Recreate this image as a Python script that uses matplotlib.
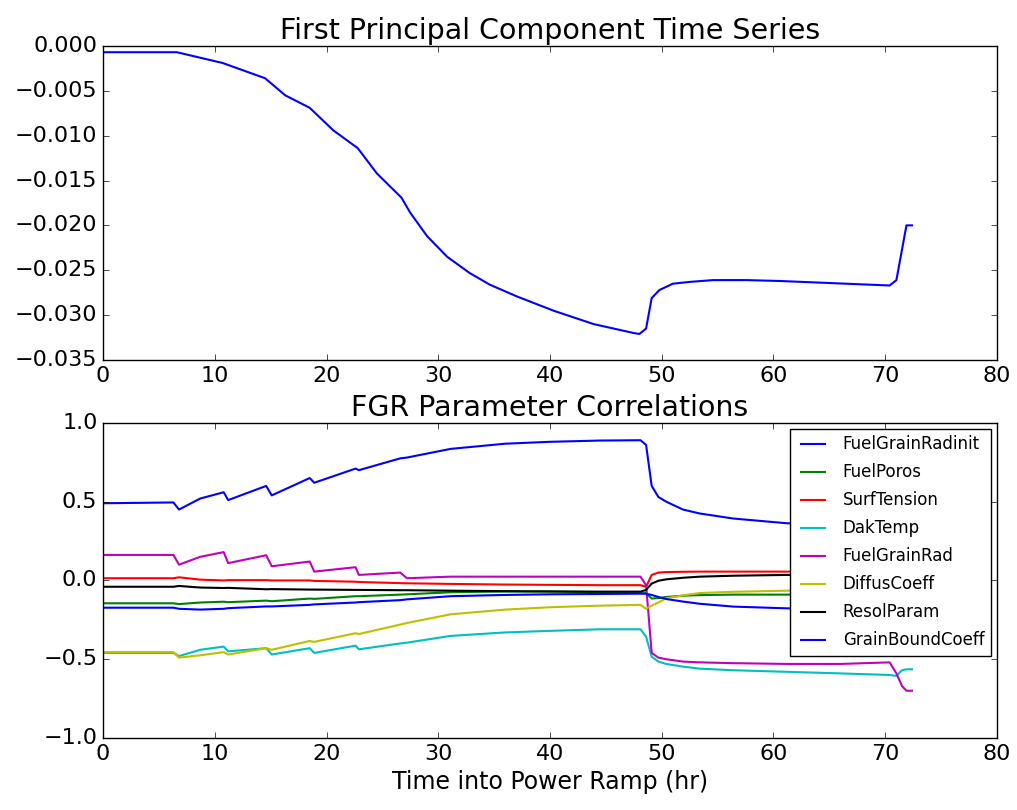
import numpy as np
import matplotlib
matplotlib.use('Agg')
import matplotlib.pyplot as plt
# plotting, old-school look

plt.style.use('classic')

# first principal component
pc_time = [0, 6.6, 10.7, 14.5, 16.3, 18.5, 20.6, 22.8, 24.5, 26.7, 27.5, 29.0, 30.8,
           32.8, 34.6, 37.0, 40.3, 43.9, 47.5, 48.0, 48.6, 49.1, 49.8, 51.0, 52.5,
           54.6, 57.6, 60.6, 70.4, 71.0, 71.9, 72.4]
pc_value = [-0.0007, -0.0007, -0.0019, -0.0036, -0.0055, -0.0069, -0.0094, -0.0114,
            -0.0142, -0.0169, -0.0186, -0.0212, -0.0235, -0.0253, -0.0266, -0.0279,
            -0.0295, -0.0310, -0.0320, -0.0321, -0.0315, -0.0281, -0.0272, -0.0265,
            -0.0263, -0.0261, -0.0261, -0.0262, -0.0267, -0.0261, -0.0200, -0.0200]

# parameter correlations
time = [0, 6.3, 6.8, 8.7, 10.8, 11.2, 14.6, 15.1, 18.5, 18.9, 22.6, 22.9, 26.6, 27.2,
        31.1, 36, 40, 44.5, 48.1, 48.6, 49.1, 49.7, 50.4, 51.9, 53.4, 56.4, 61.2, 66,
        70.4, 71.0, 71.5, 71.9, 72.4]

fuel_grain_radinit = [0.49, 0.495, 0.45, 0.52, 0.56, 0.51, 0.60, 0.54, 0.65, 0.62, 0.71,
                      0.70, 0.775, 0.78, 0.835, 0.868, 0.88, 0.888, 0.89, 0.86, 0.60,
                      0.53, 0.50, 0.45, 0.425, 0.393, 0.363, 0.35, 0.34, 0.34, 0.34,
                      0.34, 0.34]
fuel_poros = [-0.145, -0.145, -0.15, -0.14, -0.135, -0.138, -0.128, -0.132, -0.115,
              -0.117, -0.10, -0.10, -0.09, -0.088, -0.075, -0.07, -0.07, -0.075, -0.075,
              -0.08, -0.115, -0.112, -0.105, -0.097, -0.093, -0.09, -0.09, -0.09,
              -0.09, -0.09, -0.09, -0.09, -0.09]
surf_tension = [0.014, 0.014, 0.02, 0.005, 0.0, 0.002, 0.002, 0.0, 0.0, -0.003, -0.008,
                -0.01, -0.017, -0.018, -0.022, -0.026, -0.028, -0.03, -0.03, -0.04,
                0.035, 0.05, 0.053, 0.055, 0.056, 0.056, 0.056, 0.056, 0.056, 0.056,
                0.056, 0.056, 0.056]
dak_temp = [-0.46, -0.46, -0.48, -0.44, -0.42, -0.45, -0.43, -0.47, -0.43, -0.46, -0.414,
            -0.437, -0.40, -0.395, -0.352, -0.33, -0.32, -0.31, -0.31, -0.357, -0.484,
            -0.515, -0.53, -0.547, -0.56, -0.57, -0.58, -0.59, -0.60, -0.606, -0.57,
            -0.564, -0.564]
fuel_grain_rad = [0.162, 0.162, 0.10, 0.15, 0.18, 0.11, 0.16, 0.09, 0.12, 0.056, 0.084,
                  0.035, 0.05, 0.014, 0.024, 0.024, 0.024, 0.024, 0.024, -0.03, -0.46,
                  -0.49, -0.50, -0.515, -0.52, -0.525, -0.53, -0.53, -0.52, -0.59,
                  -0.67, -0.70, -0.70]
diffus_coeff = [-0.455, -0.455, -0.49, -0.475, -0.455, -0.47, -0.43, -0.44, -0.384,
                -0.39, -0.335, -0.34, -0.28, -0.27, -0.215, -0.185, -0.17, -0.16, -0.155,
                -0.18, -0.16, -0.14, -0.113, -0.095, -0.08, -0.072, -0.065, -0.06,
                -0.06, -0.06, -0.06, -0.06, -0.06]
resol_param = [-0.04, -0.04, -0.035, -0.045, -0.048, -0.047, -0.056, -0.055, -0.058,
               -0.058, -0.06, -0.06, -0.062, -0.062, -0.065, -0.068, -0.07, -0.071,
               -0.071, -0.06, -0.02, -0.002, 0.007, 0.017, 0.024, 0.03, 0.035, 0.038,
               0.04, 0.04, 0.04, 0.04, 0.04]
grain_bound_coeff = [-0.173, -0.173, -0.18, -0.185, -0.18, -0.176, -0.165, -0.165,
                     -0.155, -0.152, -0.14, -0.138, -0.125, -0.12, -0.10, -0.092, -0.088,
                     -0.086, -0.084, -0.085, -0.092, -0.105, -0.118, -0.134, -0.148,
                     -0.166, -0.177, -0.18, -0.18, -0.18, -0.18, -0.18, -0.18]

names = ['FuelGrainRadinit', 'FuelPoros', 'SurfTension', 'DakTemp', 'FuelGrainRad',
         'DiffusCoeff', 'ResolParam', 'GrainBoundCoeff']
series = [fuel_grain_radinit, fuel_poros, surf_tension, dak_temp, fuel_grain_rad,
          diffus_coeff, resol_param, grain_bound_coeff]
colors = ['b', 'g', 'r', 'c', 'm', 'y', 'k', 'b']

fig = plt.figure(figsize=(10.17, 8.1), dpi=100, facecolor='white')

ax1 = fig.add_axes([0.1013, 0.5556, 0.879, 0.3877])
ax1.plot(pc_time, pc_value, color='b', lw=1.5)
ax1.set_xlim(0, 80)
ax1.set_ylim(-0.035, 0.0)
ax1.set_title('First Principal Component Time Series', fontsize=20.5)
ax1.tick_params(labelsize=16)

ax2 = fig.add_axes([0.1013, 0.0889, 0.879, 0.389])
for vals, name, c in zip(series, names, colors):
    ax2.plot(time, vals, color=c, lw=1.5, label=name)
ax2.set_xlim(0, 80)
ax2.set_ylim(-1.0, 1.0)
ax2.set_yticks([-1.0, -0.5, 0.0, 0.5, 1.0])
ax2.set_title('FGR Parameter Correlations', fontsize=20.5)
ax2.set_xlabel('Time into Power Ramp (hr)', fontsize=17)
ax2.tick_params(labelsize=16)
ax2.legend(loc='upper right', fontsize=12, labelspacing=0.6, borderaxespad=0.35)

fig.savefig('out.png', dpi=100, facecolor='white')
